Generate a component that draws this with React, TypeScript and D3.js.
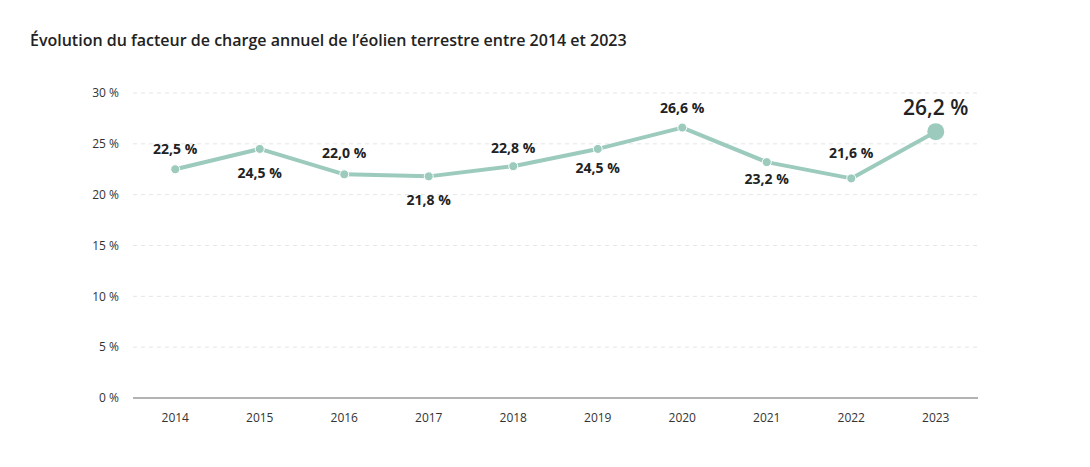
import { useEffect, useRef } from "react";
import * as d3 from "d3";

const years = ["2014", "2015", "2016", "2017", "2018", "2019", "2020", "2021", "2022", "2023"];
const loadFactor = [22.5, 24.5, 22.0, 21.8, 22.8, 24.5, 26.6, 23.2, 21.6, 26.2];
// vertical shift of each value label from its point (label centre, px)
const labelShift = [-20, 24, -21, 24, -18, 19, -19, 17, -25, -24];
const yTicks = [0, 5, 10, 15, 20, 25, 30];

const fmt = (v: number) => v.toFixed(1).replace(".", ",") + " %";

export default function App() {
  const svgRef = useRef<SVGSVGElement>(null);

  useEffect(() => {
    if (!svgRef.current) return;
    const svg = d3.select(svgRef.current);
    svg.selectAll("*").remove();

    const width = 1090;
    const height = 467;
    const margin = { top: 93, right: 112, bottom: 69, left: 133 };
    const color = "#9ccbbd";
    const font = "'Open Sans', sans-serif";
    const last = loadFactor.length - 1;

    const x = d3
      .scalePoint<string>()
      .domain(years)
      .range([margin.left, width - margin.right])
      .padding(0.5);
    const y = d3
      .scaleLinear()
      .domain([0, 30])
      .range([height - margin.bottom, margin.top]);

    svg
      .append("text")
      .attr("x", 30)
      .attr("y", 46)
      .attr("font-family", font)
      .attr("font-weight", 600)
      .attr("font-size", 16)
      .attr("fill", "#222")
      .text("Évolution du facteur de charge annuel de l’éolien terrestre entre 2014 et 2023");

    // grid + y ticks
    const grid = svg.append("g");
    yTicks.forEach((t) => {
      if (t > 0) {
        grid
          .append("line")
          .attr("x1", margin.left)
          .attr("x2", width - margin.right)
          .attr("y1", y(t))
          .attr("y2", y(t))
          .attr("stroke", "#e3e6e6")
          .attr("stroke-dasharray", "4,4");
      }
      grid
        .append("text")
        .attr("x", 119)
        .attr("y", y(t))
        .attr("dy", "0.35em")
        .attr("text-anchor", "end")
        .attr("font-family", font)
        .attr("font-size", 12)
        .attr("fill", "#333")
        .text(`${t} %`);
    });

    svg
      .append("line")
      .attr("x1", margin.left)
      .attr("x2", width - margin.right)
      .attr("y1", y(0))
      .attr("y2", y(0))
      .attr("stroke", "#666")
      .attr("stroke-width", 1);

    years.forEach((yr) => {
      svg
        .append("text")
        .attr("x", x(yr)!)
        .attr("y", 422)
        .attr("text-anchor", "middle")
        .attr("font-family", font)
        .attr("font-size", 12)
        .attr("fill", "#333")
        .text(yr);
    });

    const line = d3
      .line<number>()
      .x((_d, i) => x(years[i])!)
      .y((d) => y(d));

    svg
      .append("path")
      .datum(loadFactor)
      .attr("d", line)
      .attr("fill", "none")
      .attr("stroke", color)
      .attr("stroke-width", 4)
      .attr("stroke-linejoin", "round");

    loadFactor.forEach((v, i) => {
      const cx = x(years[i])!;
      const cy = y(v);
      const big = i === last;
      svg
        .append("circle")
        .attr("cx", cx)
        .attr("cy", cy)
        .attr("r", big ? 8.5 : 4.5)
        .attr("fill", color)
        .attr("stroke", "#fff")
        .attr("stroke-width", big ? 0 : 1);

      svg
        .append("text")
        .attr("x", cx)
        .attr("y", cy + labelShift[i])
        .attr("dy", "0.35em")
        .attr("text-anchor", "middle")
        .attr("font-family", font)
        .attr("font-weight", big ? 600 : 700)
        .attr("font-size", big ? 21 : 14)
        .attr("fill", "#222")
        .text(fmt(v));
    });
  }, []);

  return (
    <div style={{ width: 1090, height: 467, margin: -8, background: "#fff" }}>
      <svg ref={svgRef} width={1090} height={467} />
    </div>
  );
}
